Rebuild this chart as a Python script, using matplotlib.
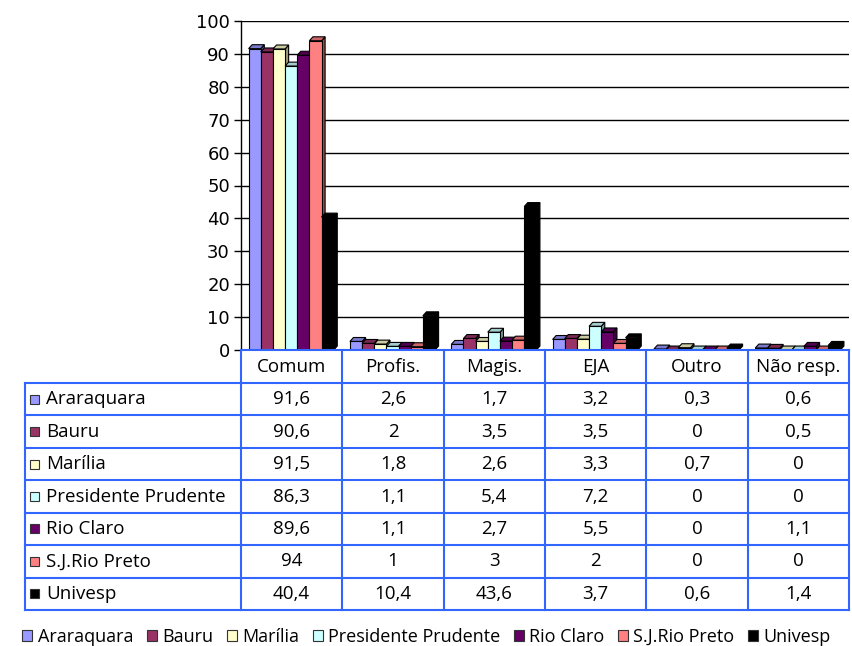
import numpy as np
import matplotlib.pyplot as plt
from matplotlib.patches import Polygon, Rectangle
import matplotlib.colors as mcolors

categories = ['Comum', 'Profis.', 'Magis.', 'EJA', 'Outro', 'Não resp.']
cities = ['Araraquara', 'Bauru', 'Marília', 'Presidente Prudente',
          'Rio Claro', 'S.J.Rio Preto', 'Univesp']
araraquara = [91.6, 2.6, 1.7, 3.2, 0.3, 0.6]
bauru = [90.6, 2, 3.5, 3.5, 0, 0.5]
marilia = [91.5, 1.8, 2.6, 3.3, 0.7, 0]
pres_prudente = [86.3, 1.1, 5.4, 7.2, 0, 0]
rio_claro = [89.6, 1.1, 2.7, 5.5, 0, 1.1]
sj_rio_preto = [94, 1, 3, 2, 0, 0]
univesp = [40.4, 10.4, 43.6, 3.7, 0.6, 1.4]
series = [araraquara, bauru, marilia, pres_prudente, rio_claro, sj_rio_preto, univesp]
colors = ['#9999FF', '#993366', '#FFFFCC', '#CCFFFF', '#660066', '#FF8080', '#000000']

W, H = 853, 646
fig = plt.figure(figsize=(W / 100, H / 100), dpi=100)

# chart area (pixel box converted to figure fractions)
x0, x1, y_top, y_zero = 241, 849, 21, 350
ax = fig.add_axes([x0 / W, 1 - y_zero / H, (x1 - x0) / W, (y_zero - y_top) / H])
ax.set_xlim(0, len(categories))
ax.set_ylim(0, 100)
ax.set_yticks(np.arange(0, 101, 10))
ax.yaxis.grid(True, color='black', lw=1)
ax.set_axisbelow(True)
ax.set_xticks([])
for s in ['top', 'right', 'bottom']:
    ax.spines[s].set_visible(False)
ax.spines['left'].set_linewidth(1)
ax.tick_params(axis='y', length=5, width=1, labelsize=13, pad=3)

bw = 0.12
off = 0.075
dx = 0.035
dy = 1.2


def shade(c, f):
    r, g, b = mcolors.to_rgb(c)
    return (r * f, g * f, b * f)


z = 3
for j in range(len(categories)):
    for i, vals in enumerate(series):
        h = vals[j]
        x = j + off + i * bw
        c = colors[i]
        ax.add_patch(Polygon([(x + bw, 0), (x + bw + dx, dy), (x + bw + dx, h + dy), (x + bw, h)],
                             closed=True, fc=shade(c, 0.6), ec='black', lw=0.8, zorder=z))
        ax.add_patch(Polygon([(x, h), (x + dx, h + dy), (x + bw + dx, h + dy), (x + bw, h)],
                             closed=True, fc=shade(c, 0.8), ec='black', lw=0.8, zorder=z))
        ax.add_patch(Rectangle((x, 0), bw, h, fc=c, ec='black', lw=0.8, zorder=z))
        z += 1

# data table below the chart
tax = fig.add_axes([0, 0, 1, 1])
tax.set_xlim(0, W)
tax.set_ylim(H, 0)
tax.axis('off')
blue = '#3366FF'
tfont = 'Open Sans'
fs = 13.5
col_edges = np.linspace(x0, x1, len(categories) + 1)
row_edges = np.linspace(383, 610, len(cities) + 1)
lab_x = 25

tax.plot([x0, x1], [y_zero, y_zero], color=blue, lw=1.5)
for yy in row_edges:
    tax.plot([lab_x, x1], [yy, yy], color=blue, lw=1.5)
for xx in col_edges:
    tax.plot([xx, xx], [y_zero, row_edges[-1]], color=blue, lw=1.5)
tax.plot([lab_x, lab_x], [row_edges[0], row_edges[-1]], color=blue, lw=1.5)

for j, cat in enumerate(categories):
    tax.text((col_edges[j] + col_edges[j + 1]) / 2, (y_zero + row_edges[0]) / 2, cat,
             ha='center', va='center', fontsize=fs, family=tfont)

for i, name in enumerate(cities):
    yc = (row_edges[i] + row_edges[i + 1]) / 2
    tax.add_patch(Rectangle((30, yc - 4.5), 9, 9, fc=colors[i], ec='#333333', lw=0.8))
    tax.text(46, yc, name, ha='left', va='center', fontsize=fs, family=tfont)
    for j in range(len(categories)):
        txt = '{:g}'.format(series[i][j]).replace('.', ',')
        tax.text((col_edges[j] + col_edges[j + 1]) / 2, yc, txt,
                 ha='center', va='center', fontsize=fs, family=tfont)

handles = [Rectangle((0, 0), 1, 1, fc=c, ec='#333333', lw=0.8) for c in colors]
fig.legend(handles, cities, loc='center', bbox_to_anchor=(0.5, 1 - 637 / H), ncol=7,
           frameon=False, handlelength=0.55, handleheight=0.55, handletextpad=0.3,
           columnspacing=0.75, prop={'family': tfont, 'size': 13})

fig.savefig('out.png', dpi=100)
